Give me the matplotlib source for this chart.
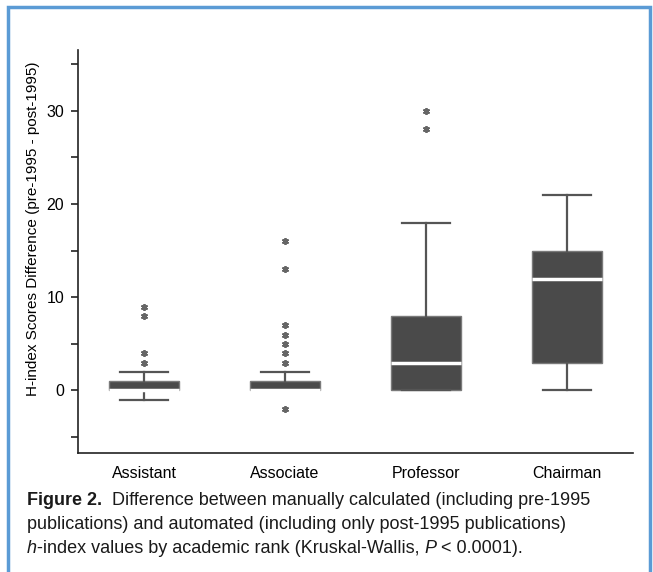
import matplotlib.pyplot as plt
from matplotlib.patches import Rectangle

plt.rcParams['font.family'] = ['Liberation Sans', 'DejaVu Sans']

# data
ranks = ['Assistant', 'Associate', 'Professor', 'Chairman']
q1 = [0, 0, 0, 3]
medians = [0, 0, 3, 12]
q3 = [1, 1, 8, 15]
whisker_low = [-1, 0, 0, 0]
whisker_high = [2, 2, 18, 21]
outliers = [[3, 4, 8, 9], [-2, 3, 4, 5, 6, 7, 13, 16], [28, 30], []]

yticks = [-5, 0, 5, 10, 15, 20, 25, 30, 35]
ylabels = ['', '0', '', '10', '', '20', '', '30', '']

fig = plt.figure(figsize=(6.53, 5.72), dpi=100)
ax = fig.add_axes([78 / 653, 1 - 453 / 572, 555 / 653, 403 / 572])

stats = []
for i in range(len(ranks)):
    stats.append({'label': ranks[i], 'q1': q1[i], 'med': medians[i], 'q3': q3[i],
                  'whislo': whisker_low[i], 'whishi': whisker_high[i],
                  'fliers': outliers[i]})

ax.bxp(stats, positions=range(1, len(ranks) + 1), widths=0.5, capwidths=0.34,
       patch_artist=True,
       boxprops=dict(facecolor='#4a4a4a', edgecolor='#7a7a7a', linewidth=1),
       whiskerprops=dict(color='#555555', linewidth=1.6),
       capprops=dict(color='#555555', linewidth=1.6),
       medianprops=dict(color='white', linewidth=2.5),
       flierprops=dict(marker=(6, 2, 0), markersize=5, markeredgecolor='#666666',
                       markeredgewidth=1.3, linestyle='none'))

ax.set_xlim(0.53, 4.47)
ax.set_ylim(-6.7, 36.5)
ax.set_yticks(yticks)
ax.set_yticklabels(ylabels)
ax.tick_params(axis='y', length=5, width=1.2, color='#222222', labelsize=11.5, pad=5)
ax.tick_params(axis='x', length=0, labelsize=11.5, pad=9)
ax.set_ylabel('H-index Scores Difference (pre-1995 - post-1995)', fontsize=11)
ax.yaxis.set_label_coords(-0.068, 0.556)
for s in ['top', 'right']:
    ax.spines[s].set_visible(False)
for s in ['left', 'bottom']:
    ax.spines[s].set_linewidth(1.2)
    ax.spines[s].set_color('#222222')

# caption, pieces placed one after another on the same baseline
renderer = fig.canvas.get_renderer()

def caption_line(pieces, y_px):
    x = 27
    for text, style in pieces:
        kw = dict(fontsize=13, color='#1a1a1a', va='baseline', ha='left')
        if style == 'b':
            kw['weight'] = 'bold'
        elif style == 'i':
            kw['style'] = 'italic'
        t = fig.text(x / 653, 1 - y_px / 572, text, **kw)
        x += t.get_window_extent(renderer).width

caption_line([('Figure 2.', 'b'), ('  Difference between manually calculated (including pre-1995', '')], 505)
caption_line([('publications) and automated (including only post-1995 publications)', '')], 529)
caption_line([('h', 'i'), ('-index values by academic rank (Kruskal-Wallis, ', ''), ('P', 'i'),
              (' < 0.0001).', '')], 553)

fig.patches.append(Rectangle((7.5 / 653, -0.1), 642.5 / 653, 1.1 - 6.5 / 572,
                             transform=fig.transFigure, fill=False,
                             edgecolor='#5b9bd5', linewidth=2.5))

fig.savefig('out.png', dpi=100)
